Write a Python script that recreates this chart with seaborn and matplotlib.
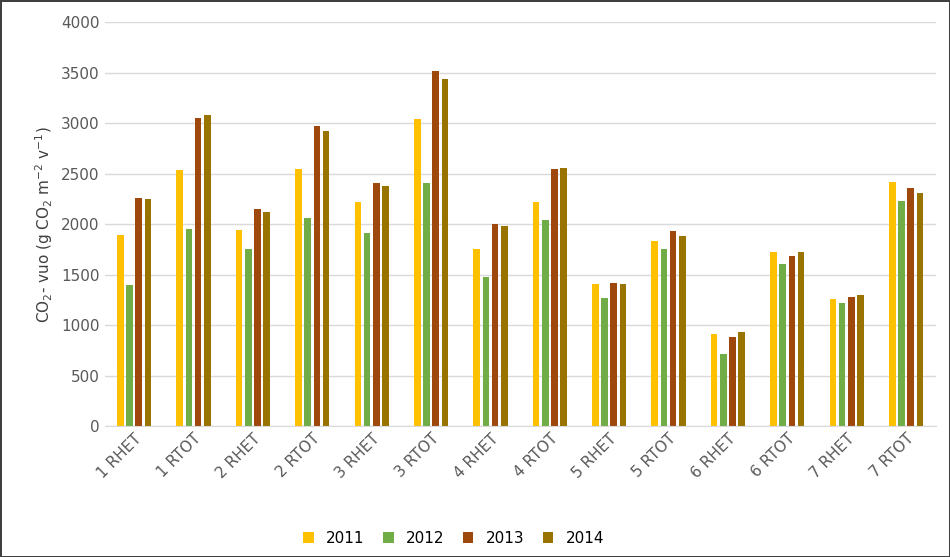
import pandas as pd
import matplotlib.pyplot as plt
import seaborn as sns

# Categories and yearly values
categories = ['1 RHET', '1 RTOT', '2 RHET', '2 RTOT', '3 RHET', '3 RTOT', '4 RHET',
              '4 RTOT', '5 RHET', '5 RTOT', '6 RHET', '6 RTOT', '7 RHET', '7 RTOT']
years = ['2011', '2012', '2013', '2014']
v2011 = [1890, 2540, 1940, 2550, 2220, 3040, 1750, 2220, 1410, 1830, 910, 1720, 1260, 2420]
v2012 = [1400, 1950, 1750, 2060, 1910, 2410, 1480, 2040, 1270, 1750, 710, 1610, 1220, 2230]
v2013 = [2260, 3050, 2150, 2970, 2410, 3520, 2000, 2550, 1420, 1930, 880, 1680, 1280, 2360]
v2014 = [2250, 3080, 2120, 2920, 2380, 3440, 1980, 2560, 1410, 1880, 930, 1720, 1300, 2310]
colors = ['#FFC000', '#70AD47', '#9E480E', '#997300']

rows = []
for year, vals in zip(years, [v2011, v2012, v2013, v2014]):
    for c, v in zip(categories, vals):
        rows.append({'cat': c, 'year': year, 'value': v})
df = pd.DataFrame(rows)

fig = plt.figure(figsize=(9.5, 5.57), dpi=100)
fig.patch.set_edgecolor('#404040')
fig.patch.set_linewidth(2)
ax = fig.add_axes([0.11, 0.235, 0.875, 0.725])
sns.barplot(data=df, x='cat', y='value', hue='year', palette=colors,
            width=0.62, gap=0.28, saturation=1, ax=ax)

ax.set_ylim(0, 4000)
ax.set_yticks(range(0, 4001, 500))
ax.yaxis.grid(True, color='#D9D9D9', linewidth=1)
ax.set_axisbelow(True)
for s in ['top', 'right', 'left']:
    ax.spines[s].set_visible(False)
ax.spines['bottom'].set_color('#D9D9D9')
ax.tick_params(axis='both', length=0, labelsize=11, colors='#595959')
plt.setp(ax.get_xticklabels(), rotation=45, ha='right', rotation_mode='anchor')
ax.set_xlabel('')
ax.set_ylabel(r'CO$_2$- vuo (g CO$_2$ m$^{-2}$ v$^{-1}$)', fontsize=11, color='#404040')
ax.legend(loc='lower center', bbox_to_anchor=(0.42, -0.33), ncol=4, frameon=False,
          fontsize=11, handlelength=0.7, handleheight=0.7, columnspacing=1.2)

fig.savefig('out.png', dpi=100, edgecolor=fig.get_edgecolor())
